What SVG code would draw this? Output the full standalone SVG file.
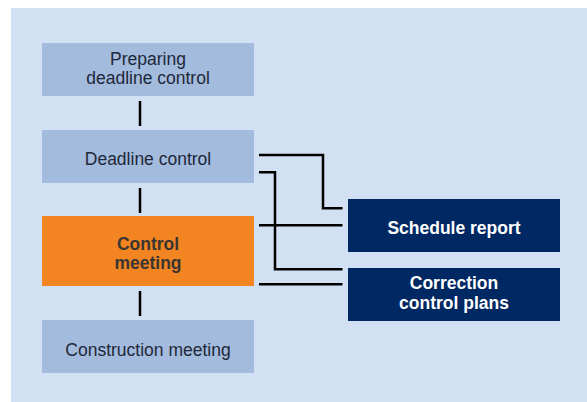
<svg xmlns="http://www.w3.org/2000/svg" width="587" height="402" viewBox="0 0 587 402">
<style>
.bg{fill:#d1e0f2}
.light{fill:#a3bbdd}
.orange{fill:#f28522}
.navy{fill:#002863}
text{font-family:"Liberation Sans",Arial,sans-serif;font-size:17.5px;text-anchor:middle}
.t{fill:#1e2838}
.tb{fill:#3a3530;font-weight:bold}
.tw{fill:#ffffff;font-weight:bold}
.c{fill:none;stroke:#000;stroke-width:2.5}
</style>
<rect class="bg" x="11" y="8" width="576" height="394"/>
<g id="connectors">
<line class="c" x1="140" y1="101" x2="140" y2="126"/>
<line class="c" x1="140" y1="188" x2="140" y2="213"/>
<line class="c" x1="140" y1="291" x2="140" y2="316"/>
<polyline class="c" points="259,155 323,155 323,208.3 342.5,208.3"/>
<polyline class="c" points="259,172.3 275,172.3 275,269.3 342.5,269.3"/>
<line class="c" x1="259" y1="225.3" x2="342.5" y2="225.3"/>
<line class="c" x1="259" y1="284.3" x2="342.5" y2="284.3"/>
</g>
<g id="preparing">
<rect class="light" x="42" y="43" width="212" height="53"/>
<text class="t" x="148" y="64.8">Preparing</text>
<text class="t" x="148" y="84.4">deadline control</text>
</g>
<g id="deadline">
<rect class="light" x="42" y="130" width="212" height="53"/>
<text class="t" x="148" y="165">Deadline control</text>
</g>
<g id="meeting">
<rect class="orange" x="42" y="216" width="212" height="70"/>
<text class="tb" x="148" y="249.6">Control</text>
<text class="tb" x="148" y="269.2">meeting</text>
</g>
<g id="construction">
<rect class="light" x="42" y="320" width="212" height="53"/>
<text class="t" x="148" y="355.5">Construction meeting</text>
</g>
<g id="schedule">
<rect class="navy" x="348" y="199" width="212" height="53"/>
<text class="tw" x="454" y="234.2">Schedule report</text>
</g>
<g id="correction">
<rect class="navy" x="348" y="268" width="212" height="53"/>
<text class="tw" x="454" y="289.2">Correction</text>
<text class="tw" x="454" y="308.8">control plans</text>
</g>
</svg>
